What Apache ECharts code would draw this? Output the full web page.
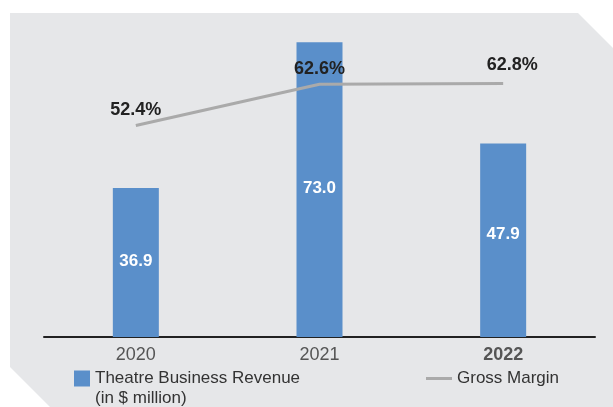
<!DOCTYPE html>
<html>
<head>
<meta charset="utf-8">
<script src="https://cdn.jsdelivr.net/npm/echarts@6/dist/echarts.min.js"></script>
<style>
html, body { margin: 0; padding: 0; background: #fff; }
#chart { width: 613px; height: 407px; }
</style>
</head>
<body>
<div id="chart"></div>
<script>
const years = ['2020', '2021', '2022']
const revenue = [36.9, 73.0, 47.9]
const grossMargin = [52.4, 62.6, 62.8]

const chart = echarts.init(document.getElementById('chart'))
const font = "'Liberation Sans', Arial, sans-serif"

chart.setOption({
  animation: false,
  textStyle: { fontFamily: font },
  graphic: [
    {
      type: 'polygon',
      z: -10,
      silent: true,
      shape: {
        points: [[10, 13], [578, 13], [613, 48], [613, 407], [50, 407], [10, 367]]
      },
      style: { fill: '#e6e7e9' }
    },
    {
      type: 'text',
      left: 95,
      top: 390,
      silent: true,
      style: { text: '(in $ million)', fill: '#333', font: "17px 'Liberation Sans', Arial, sans-serif" }
    }
  ],
  grid: { left: 44, right: 18, top: 14, bottom: 70 },
  legend: [
    {
      data: ['Theatre Business Revenue'],
      left: 69,
      top: 365,
      icon: 'rect',
      itemWidth: 16,
      itemHeight: 16,
      itemGap: 0,
      textStyle: { fontSize: 17, color: '#333' }
    },
    {
      data: ['Gross Margin'],
      left: 421,
      top: 365,
      icon: 'rect',
      itemWidth: 26,
      itemHeight: 3,
      textStyle: { fontSize: 17, color: '#333' }
    }
  ],
  xAxis: {
    type: 'category',
    data: years,
    axisLine: { lineStyle: { color: '#222', width: 2 } },
    axisTick: { show: false },
    axisLabel: {
      margin: 9,
      fontSize: 18,
      color: '#555',
      formatter: function(v) {
        return v === '2022' ? '{b|' + v + '}' : v
      },
      rich: {
        b: { fontSize: 18, fontWeight: 'bold', color: '#555' }
      }
    }
  },
  yAxis: [
    { type: 'value', min: 0, max: 80, show: false, splitLine: { show: false } },
    { type: 'value', min: 0, max: 80, show: false, splitLine: { show: false } }
  ],
  series: [
    {
      name: 'Theatre Business Revenue',
      type: 'bar',
      data: revenue.map(function(v, i) {
        return i === 2 ? { value: v, label: { offset: [0, -6] } } : v
      }),
      barWidth: 46,
      itemStyle: { color: '#5a8fca' },
      label: {
        show: true,
        position: 'inside',
        offset: [0, -1],
        color: '#fff',
        fontSize: 17,
        fontWeight: 'bold',
        formatter: function(p) { return p.value.toFixed(1) }
      }
    },
    {
      name: 'Gross Margin',
      type: 'line',
      yAxisIndex: 1,
      data: grossMargin.map(function(v, i) {
        return i === 2 ? { value: v, label: { offset: [9, -3] } } : v
      }),
      symbol: 'circle',
      symbolSize: 0,
      showSymbol: true,
      z: 3,
      lineStyle: { color: '#aaaaaa', width: 3 },
      itemStyle: { color: '#aaaaaa' },
      label: {
        show: true,
        position: 'top',
        distance: 6,
        color: '#222',
        fontSize: 18,
        fontWeight: 'bold',
        formatter: function(p) { return p.value.toFixed(1) + '%' }
      }
    }
  ]
})
</script>
</body>
</html>
